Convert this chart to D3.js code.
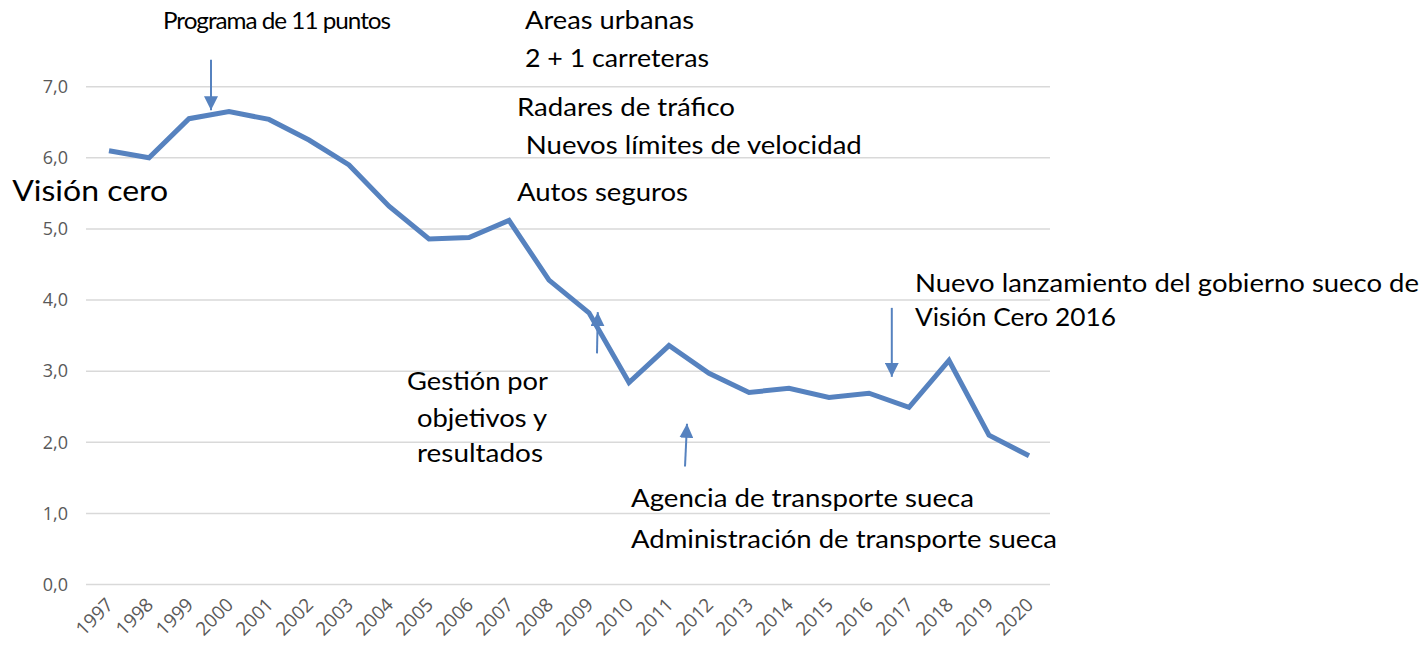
<!DOCTYPE html>
<html>
<head>
<meta charset="utf-8">
<script src="https://cdn.jsdelivr.net/npm/d3@7"></script>
<style>
  body { margin: 0; background: #fff; }
  svg { display: block; }
</style>
</head>
<body>
<svg width="1426" height="648"></svg>
<script>
const years = [1997, 1998, 1999, 2000, 2001, 2002, 2003, 2004, 2005, 2006, 2007, 2008,
  2009, 2010, 2011, 2012, 2013, 2014, 2015, 2016, 2017, 2018, 2019, 2020];
const values = [6.1, 6.0, 6.55, 6.65, 6.54, 6.25, 5.9, 5.32, 4.86, 4.88, 5.12, 4.28,
  3.82, 2.84, 3.36, 2.97, 2.7, 2.76, 2.63, 2.69, 2.49, 3.15, 2.1, 1.81];
const yTicks = [0, 1, 2, 3, 4, 5, 6, 7];

// annotation texts, placed in data units (year, value)
const labels = [
  { text: 'Programa de 11 puntos', year: 1998.35, value: 7.81, w: 227, size: 24, condensed: true },
  { text: 'Areas urbanas', year: 2007.4, value: 7.81, w: 169 },
  { text: '2 + 1 carreteras', year: 2007.4, value: 7.28, w: 184 },
  { text: 'Radares de tráfico', year: 2007.2, value: 6.59, w: 218 },
  { text: 'Nuevos límites de velocidad', year: 2007.42, value: 6.05, w: 336 },
  { text: 'Autos seguros', year: 2007.2, value: 5.39, w: 171 },
  { text: 'Visión cero', year: 1994.58, value: 5.39, w: 156, size: 28 },
  { text: 'Gestión por', year: 2004.45, value: 2.73, w: 141 },
  { text: 'objetivos y', year: 2004.7, value: 2.21, w: 130 },
  { text: 'resultados', year: 2004.7, value: 1.72, w: 126 },
  { text: 'Agencia de transporte sueca', year: 2010.05, value: 1.09, w: 343 },
  { text: 'Administración de transporte sueca', year: 2010.05, value: 0.51, w: 426 },
  { text: 'Nuevo lanzamiento del gobierno sueco de', year: 2017.15, value: 4.11, w: 504 },
  { text: 'Visión Cero 2016', year: 2017.15, value: 3.63, w: 201 },
];

// arrows: from (year0, value0) to (year1, value1)
const arrows = [
  { year0: 1999.55, value0: 7.38, year1: 1999.55, value1: 6.67 },
  { year0: 2009.2, value0: 3.25, year1: 2009.22, value1: 3.83 },
  { year0: 2011.4, value0: 1.66, year1: 2011.45, value1: 2.26 },
  { year0: 2016.57, value0: 3.89, year1: 2016.57, value1: 2.92 },
];

const svg = d3.select('svg');
const blue = '#5682bf';

const x = d3.scalePoint().domain(years).range([89, 1049]).padding(0.5);
const step = x.step();
const xYear = yr => x(years[0]) + (yr - years[0]) * step;
const y = d3.scaleLinear().domain([0, 7]).range([584.5, 86.7]);

// gridlines
svg.append('g')
  .selectAll('line')
  .data(yTicks)
  .enter().append('line')
    .attr('x1', 86)
    .attr('x2', 1050)
    .attr('y1', d => y(d))
    .attr('y2', d => y(d))
    .attr('stroke', '#d9d9d9')
    .attr('stroke-width', 1.5);

// y axis labels
const yAxis = svg.append('g')
  .attr('transform', 'translate(68,0)')
  .call(d3.axisLeft(y).tickValues(yTicks).tickSize(0).tickPadding(0)
    .tickFormat(d => d3.format('.1f')(d).replace('.', ',')));
yAxis.select('.domain').remove();
yAxis.attr('font-size', null).attr('font-family', null);
yAxis.selectAll('text')
  .style('font-family', 'Open Sans, sans-serif')
  .style('font-size', '18px')
  .attr('fill', '#595959');

// x axis labels
const xAxis = svg.append('g')
  .attr('transform', 'translate(0,597)')
  .call(d3.axisBottom(x).tickSize(0).tickPadding(0).tickFormat(d3.format('d')));
xAxis.select('.domain').remove();
xAxis.attr('font-size', null).attr('font-family', null);
xAxis.selectAll('text')
  .style('font-family', 'Open Sans, sans-serif')
  .style('font-size', '19px')
  .attr('fill', '#595959')
  .attr('text-anchor', 'end')
  .attr('dy', 0)
  .attr('transform', 'translate(5,9) rotate(-45)');

// the line
const line = d3.line()
  .x((d, i) => x(years[i]))
  .y(d => y(d));

svg.append('path')
  .datum(values)
  .attr('d', line)
  .attr('fill', 'none')
  .attr('stroke', blue)
  .attr('stroke-width', 5)
  .attr('stroke-linejoin', 'miter');

// arrowheads
svg.append('defs').append('marker')
  .attr('id', 'head')
  .attr('viewBox', '0 -5 10 10')
  .attr('refX', 10)
  .attr('refY', 0)
  .attr('markerUnits', 'userSpaceOnUse')
  .attr('markerWidth', 14)
  .attr('markerHeight', 14)
  .attr('orient', 'auto')
  .append('path')
    .attr('d', 'M0,-5L10,0L0,5Z')
    .attr('fill', blue);

svg.append('g')
  .selectAll('line')
  .data(arrows)
  .enter().append('line')
    .attr('x1', d => xYear(d.year0))
    .attr('y1', d => y(d.value0))
    .attr('x2', d => xYear(d.year1))
    .attr('y2', d => y(d.value1))
    .attr('stroke', blue)
    .attr('stroke-width', 2)
    .attr('marker-end', 'url(#head)');

// annotation texts
svg.append('g')
  .selectAll('text')
  .data(labels)
  .enter().append('text')
    .attr('x', d => xYear(d.year))
    .attr('y', d => y(d.value))
    .attr('font-family', 'Lato, Open Sans, sans-serif')
    .attr('font-size', d => d.size || 25)
    .attr('letter-spacing', d => d.condensed ? -1 : 0)
    .attr('textLength', d => d.w)
    .attr('lengthAdjust', 'spacingAndGlyphs')
    .attr('fill', '#000')
    .text(d => d.text);
</script>
</body>
</html>
